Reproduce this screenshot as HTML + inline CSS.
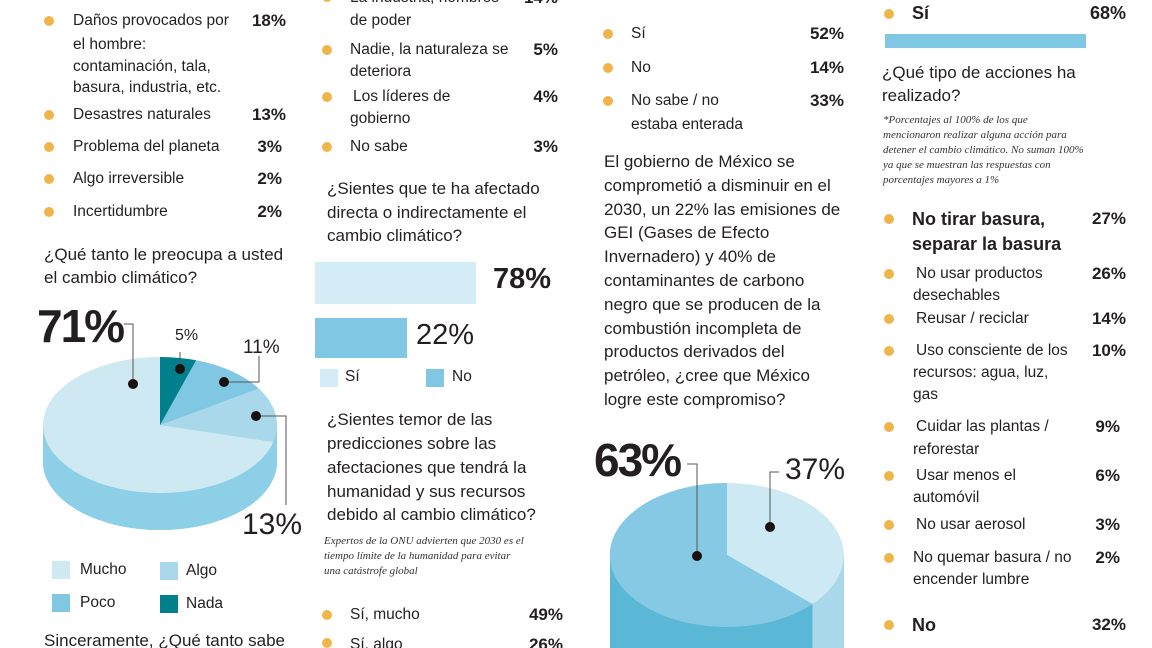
<!DOCTYPE html>
<html style="overflow:hidden;height:648px"><head><meta charset="utf-8"><style>
html,body{overflow:hidden}
body{margin:0;width:1152px;height:648px;overflow:hidden;background:#fff;position:relative;font-family:"Liberation Sans",sans-serif;color:#231f20}
.t{position:absolute;white-space:nowrap;line-height:20px;font-size:15.5px}
.p{position:absolute;white-space:nowrap;line-height:20px;font-size:17px;font-weight:bold;text-align:right;width:60px}
.b{position:absolute;width:10px;height:10px;border-radius:50%;background:#f0b54a}
.q{position:absolute;white-space:nowrap;line-height:20px;font-size:17px}
.n{position:absolute;white-space:nowrap;line-height:15px;font-size:11px;font-style:italic;font-family:"Liberation Serif",serif;color:#333}
.sq{position:absolute;width:18px;height:18px}
</style></head><body>
<div class="b" style="left:44px;top:16px"></div>
<div class="t" style="left:73px;top:11px">Daños provocados por</div>
<div class="t" style="left:73px;top:35px">el hombre:</div>
<div class="t" style="left:73px;top:57px">contaminación, tala,</div>
<div class="t" style="left:73px;top:78px">basura, industria, etc.</div>
<div class="p" style="left:226px;top:11px">18%</div>
<div class="b" style="left:44px;top:110px"></div><div class="t" style="left:73px;top:105px">Desastres naturales</div><div class="p" style="left:226px;top:105px">13%</div>
<div class="b" style="left:44px;top:142px"></div><div class="t" style="left:73px;top:137px">Problema del planeta</div><div class="p" style="left:222px;top:137px">3%</div>
<div class="b" style="left:44px;top:174px"></div><div class="t" style="left:73px;top:169px">Algo irreversible</div><div class="p" style="left:222px;top:169px">2%</div>
<div class="b" style="left:44px;top:207px"></div><div class="t" style="left:73px;top:202px">Incertidumbre</div><div class="p" style="left:222px;top:202px">2%</div>
<div class="q" style="left:44px;top:245px">¿Qué tanto le preocupa a usted</div>
<div class="q" style="left:44px;top:268px">el cambio climático?</div>
<svg style="position:absolute;left:0;top:0;overflow:hidden" width="1152" height="648">
 <path d="M43,425 L43,462 A117,68 0 0 0 277,462 L277,425 Z" fill="#8ccfe6"/>
 <ellipse cx="160" cy="462" rx="117" ry="68" fill="#8ccfe6"/>
 <path d="M160,425 L160,357 A117,68 0 1 0 273.4,441.9 Z" fill="#cfe9f3"/>
 <path d="M160,425 L273.4,441.9 A117,68 0 0 0 258.8,388.6 Z" fill="#a9d8ea"/>
 <path d="M160,425 L258.8,388.6 A117,68 0 0 0 196.2,360.3 Z" fill="#7fc7e2"/>
 <path d="M160,425 L196.2,360.3 A117,68 0 0 0 160,357 Z" fill="#007f8c"/>
 <g stroke="#555" fill="none" stroke-width="1">
  <polyline points="124,324 133,324 133,384"/>
  <polyline points="180,352 180,369"/>
  <polyline points="224,382 259,382 259,356"/>
  <polyline points="256,416 286,416 286,505"/>
 </g>
 <g fill="#1a1010"><circle cx="133" cy="384" r="5"/><circle cx="180" cy="369" r="5"/><circle cx="224" cy="382" r="5"/><circle cx="256" cy="416" r="5"/></g>
 <path d="M610,555 L610,648 L844,648 L844,555 Z" fill="#5ab8d6"/>
 <path d="M812.5,604 L812.5,648 L844,648 L844,555 Z" fill="#a9d8ea"/>
 <path d="M727,555 L727,483 A117,72 0 1 0 812.5,604 Z" fill="#86c9e4"/>
 <path d="M727,555 L727,483 A117,72 0 0 1 812.5,604 Z" fill="#cde9f3"/>
 <g stroke="#555" fill="none"><polyline points="687,464 697,464 697,556"/><polyline points="779,472 770,472 770,527"/></g>
 <g fill="#1a1010"><circle cx="697" cy="556" r="5"/><circle cx="770" cy="527" r="5"/></g>
</svg>
<div style="position:absolute;left:37px;top:300px;font-size:46px;font-weight:bold;line-height:52px;letter-spacing:-2px">71%</div>
<div class="q" style="left:175px;top:326px;font-size:16px">5%</div>
<div class="q" style="left:243px;top:338px;font-size:19px">11%</div>
<div style="position:absolute;left:242px;top:508px;font-size:30px;line-height:34px">13%</div>
<div class="sq" style="left:52px;top:561px;background:#cfe9f3"></div><div class="t" style="left:80px;top:560px">Mucho</div>
<div class="sq" style="left:160px;top:562px;background:#a9d8ea"></div><div class="t" style="left:186px;top:561px">Algo</div>
<div class="sq" style="left:52px;top:594px;background:#7fc7e2"></div><div class="t" style="left:80px;top:593px">Poco</div>
<div class="sq" style="left:160px;top:595px;background:#007f8c"></div><div class="t" style="left:186px;top:594px">Nada</div>
<div class="q" style="left:44px;top:634px;line-height:14px;height:14px;overflow:hidden">Sinceramente, ¿Qué tanto sabe</div>
<div class="b" style="left:322px;top:-8px"></div><div class="t" style="left:350px;top:-12px">La industria, hombres</div>
<div class="t" style="left:350px;top:11px">de poder</div><div class="p" style="left:498px;top:-12px">14%</div>
<div class="b" style="left:322px;top:45px"></div><div class="t" style="left:350px;top:40px">Nadie, la naturaleza se</div><div class="t" style="left:350px;top:62px">deteriora</div><div class="p" style="left:498px;top:40px">5%</div>
<div class="b" style="left:322px;top:92px"></div><div class="t" style="left:353px;top:87px">Los líderes de</div><div class="t" style="left:350px;top:109px">gobierno</div><div class="p" style="left:498px;top:87px">4%</div>
<div class="b" style="left:322px;top:142px"></div><div class="t" style="left:350px;top:137px">No sabe</div><div class="p" style="left:498px;top:137px">3%</div>
<div class="q" style="left:327px;top:179px">¿Sientes que te ha afectado</div>
<div class="q" style="left:327px;top:203px">directa o indirectamente el</div>
<div class="q" style="left:327px;top:226px">cambio climático?</div>
<div style="position:absolute;left:315px;top:262px;width:161px;height:42px;background:#d4ecf5"></div>
<div style="position:absolute;left:493px;top:262px;font-size:29px;font-weight:bold;line-height:34px">78%</div>
<div style="position:absolute;left:315px;top:318px;width:92px;height:40px;background:#7fc7e2"></div>
<div style="position:absolute;left:416px;top:318px;font-size:29px;line-height:34px">22%</div>
<div class="sq" style="left:320px;top:369px;background:#d4ecf5"></div><div class="t" style="left:345px;top:367px">Sí</div>
<div class="sq" style="left:426px;top:369px;background:#7fc7e2"></div><div class="t" style="left:452px;top:367px">No</div>
<div class="q" style="left:327px;top:410px">¿Sientes temor de las</div>
<div class="q" style="left:327px;top:434px">predicciones sobre las</div>
<div class="q" style="left:327px;top:458px">afectaciones que tendrá la</div>
<div class="q" style="left:327px;top:482px">humanidad y sus recursos</div>
<div class="q" style="left:327px;top:505px">debido al cambio climático?</div>
<div class="n" style="left:324px;top:534px">Expertos de la ONU advierten que 2030 es el</div>
<div class="n" style="left:324px;top:549px">tiempo límite de la humanidad para evitar</div>
<div class="n" style="left:324px;top:564px">una catástrofe global</div>
<div class="b" style="left:322px;top:610px"></div><div class="t" style="left:350px;top:605px">Sí, mucho</div><div class="p" style="left:503px;top:605px">49%</div>
<div class="b" style="left:322px;top:638px"></div><div class="t" style="left:350px;top:635px;height:13px;overflow:hidden">Sí, algo</div><div class="p" style="left:503px;top:635px;height:13px;overflow:hidden">26%</div>
<div class="b" style="left:603px;top:29px"></div><div class="t" style="left:631px;top:24px">Sí</div><div class="p" style="left:784px;top:24px">52%</div>
<div class="b" style="left:603px;top:63px"></div><div class="t" style="left:631px;top:58px">No</div><div class="p" style="left:784px;top:58px">14%</div>
<div class="b" style="left:603px;top:96px"></div><div class="t" style="left:631px;top:91px">No sabe / no</div><div class="t" style="left:631px;top:115px">estaba enterada</div><div class="p" style="left:784px;top:91px">33%</div>
<div class="q" style="left:604px;top:152px">El gobierno de México se</div>
<div class="q" style="left:604px;top:176px">comprometió a disminuir en el</div>
<div class="q" style="left:604px;top:200px">2030, un 22% las emisiones de</div>
<div class="q" style="left:604px;top:223px">GEI (Gases de Efecto</div>
<div class="q" style="left:604px;top:247px">Invernadero) y 40% de</div>
<div class="q" style="left:604px;top:271px">contaminantes de carbono</div>
<div class="q" style="left:604px;top:295px">negro que se producen de la</div>
<div class="q" style="left:604px;top:319px">combustión incompleta de</div>
<div class="q" style="left:604px;top:342px">productos derivados del</div>
<div class="q" style="left:604px;top:366px">petróleo, ¿cree que México</div>
<div class="q" style="left:604px;top:390px">logre este compromiso?</div>
<div style="position:absolute;left:594px;top:434px;font-size:46px;font-weight:bold;line-height:52px;letter-spacing:-2px">63%</div>
<div style="position:absolute;left:785px;top:453px;font-size:30px;line-height:34px">37%</div>
<div class="b" style="left:884px;top:9px"></div><div class="q" style="left:912px;top:3px;font-weight:bold;font-size:18px">Sí</div><div class="p" style="left:1066px;top:3px;font-size:18px">68%</div>
<div style="position:absolute;left:885px;top:34px;width:201px;height:14px;background:#7fc7e2"></div>
<div class="q" style="left:882px;top:63px">¿Qué tipo de acciones ha</div>
<div class="q" style="left:882px;top:86px">realizado?</div>
<div class="n" style="left:883px;top:113px">*Porcentajes al 100% de los que</div>
<div class="n" style="left:883px;top:128px">mencionaron realizar alguna acción para</div>
<div class="n" style="left:883px;top:143px">detener el cambio climático. No suman 100%</div>
<div class="n" style="left:883px;top:158px">ya que se muestran las respuestas con</div>
<div class="n" style="left:883px;top:173px">porcentajes mayores a 1%</div>
<div class="b" style="left:884px;top:214px"></div><div class="q" style="left:912px;top:209px;font-weight:bold;font-size:18px">No tirar basura,</div><div class="q" style="left:912px;top:234px;font-weight:bold;font-size:18px">separar la basura</div><div class="p" style="left:1066px;top:209px">27%</div>
<div class="b" style="left:884px;top:269px"></div><div class="t" style="left:916px;top:264px">No usar productos</div><div class="t" style="left:913px;top:286px">desechables</div><div class="p" style="left:1066px;top:264px">26%</div>
<div class="b" style="left:884px;top:314px"></div><div class="t" style="left:916px;top:309px">Reusar / reciclar</div><div class="p" style="left:1066px;top:309px">14%</div>
<div class="b" style="left:884px;top:346px"></div><div class="t" style="left:916px;top:341px">Uso consciente de los</div><div class="t" style="left:913px;top:363px">recursos: agua, luz,</div><div class="t" style="left:913px;top:385px">gas</div><div class="p" style="left:1066px;top:341px">10%</div>
<div class="b" style="left:884px;top:422px"></div><div class="t" style="left:916px;top:417px">Cuidar las plantas /</div><div class="t" style="left:913px;top:440px">reforestar</div><div class="p" style="left:1060px;top:417px">9%</div>
<div class="b" style="left:884px;top:471px"></div><div class="t" style="left:916px;top:466px">Usar menos el</div><div class="t" style="left:913px;top:488px">automóvil</div><div class="p" style="left:1060px;top:466px">6%</div>
<div class="b" style="left:884px;top:520px"></div><div class="t" style="left:916px;top:515px">No usar aerosol</div><div class="p" style="left:1060px;top:515px">3%</div>
<div class="b" style="left:884px;top:553px"></div><div class="t" style="left:913px;top:548px">No quemar basura / no</div><div class="t" style="left:913px;top:570px">encender lumbre</div><div class="p" style="left:1060px;top:548px">2%</div>
<div class="b" style="left:884px;top:620px"></div><div class="q" style="left:912px;top:615px;font-weight:bold;font-size:18px">No</div><div class="p" style="left:1066px;top:615px">32%</div>
</body></html>
